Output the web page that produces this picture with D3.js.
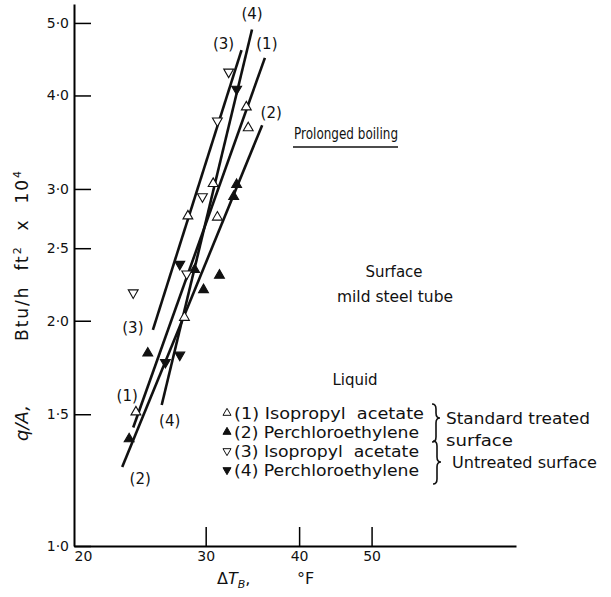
<!DOCTYPE html>
<html>
<head>
<meta charset="utf-8">
<script src="https://cdn.jsdelivr.net/npm/d3@7"></script>
<style>
body { margin: 0; background: #fff; }
svg text { font-family: "DejaVu Sans", sans-serif; fill: #111; }
</style>
</head>
<body>
<div id="chart"></div>
<script>
// tick values
var xTicks = [20, 30, 40, 50];
var yTicks = [1.0, 1.5, 2.0, 2.5, 3.0, 4.0, 5.0];

// (1) isopropyl acetate, standard treated
var s1x = [34.0, 34.2, 30.7, 28.4, 31.1, 28.1, 24.2];
var s1y = [3.86, 3.62, 3.05, 2.76, 2.75, 2.02, 1.51];
// (2) perchloroethylene, standard treated
var s2x = [33.0, 32.7, 29.0, 31.3, 29.8, 25.1, 23.7];
var s2y = [3.04, 2.93, 2.34, 2.30, 2.20, 1.81, 1.39];
// (3) isopropyl acetate, untreated
var s3x = [32.2, 31.1, 29.7, 28.3, 24.0];
var s3y = [4.30, 3.70, 2.93, 2.31, 2.18];
// (4) perchloroethylene, untreated
var s4x = [33.0, 27.7, 27.7, 26.5];
var s4y = [4.08, 2.38, 1.80, 1.76];

// fitted lines: [x bottom, x top], [y bottom, y top]
var l1x = [24.0, 36.0], l1y = [1.44, 4.49];
var l2x = [23.2, 35.7], l2y = [1.275, 3.65];
var l3x = [25.5, 33.5], l3y = [1.945, 4.60];
var l4x = [26.2, 34.6], l4y = [1.543, 4.90];

var legendNames = ["(1) Isopropyl  acetate", "(2) Perchloroethylene", "(3) Isopropyl  acetate", "(4) Perchloroethylene"];

var w = 611, h = 597;

var svg = d3.select("#chart").append("svg")
    .attr("width", w)
    .attr("height", h);

var x = d3.scaleLog().domain([20, 78]).range([74, 516]);
var y = d3.scaleLog().domain([1, 5.3]).range([546, 4]);

// y axis, ticks pointing inward
var yAxis = d3.axisLeft(y)
    .tickValues(yTicks)
    .tickSizeInner(-17)
    .tickSizeOuter(0)
    .tickPadding(5)
    .tickFormat(function(d) { return d.toFixed(1).replace(".", "·"); });

var gy = svg.append("g")
    .attr("transform", "translate(" + x(20) + ",0)")
    .call(yAxis);
gy.select(".domain").attr("stroke-width", 2);
gy.selectAll(".tick line").attr("stroke-width", 1.5);
gy.selectAll(".tick text")
    .style("font-size", "14px")
    .style("font-family", "DejaVu Sans");

// x axis, ticks pointing up
var xAxis = d3.axisBottom(x)
    .tickValues(xTicks)
    .tickSizeInner(-19)
    .tickSizeOuter(0)
    .tickPadding(5)
    .tickFormat(d3.format("d"));

var gx = svg.append("g")
    .attr("transform", "translate(0," + y(1) + ")")
    .call(xAxis);
gx.select(".domain").attr("stroke-width", 2);
gx.selectAll(".tick line").attr("stroke-width", 1.5);
gx.selectAll(".tick text")
    .style("font-size", "14px")
    .style("font-family", "DejaVu Sans");
gx.selectAll(".tick").filter(function(d) { return d == 20; }).select("text")
    .attr("dx", 9);
gx.selectAll(".tick").filter(function(d) { return d == 20; }).select("line").remove();

// fitted lines
var lines = [
    {xs: l1x, ys: l1y, top: [2, -14], bot: [-6, -32], name: "(1)"},
    {xs: l2x, ys: l2y, top: [9, -12], bot: [18, 12], name: "(2)"},
    {xs: l3x, ys: l3y, top: [-18, -6], bot: [-20, -2], name: "(3)"},
    {xs: l4x, ys: l4y, top: [0, -16], bot: [8, 16], name: "(4)"}
];

lines.forEach(function(l) {
    svg.append("line")
        .attr("x1", x(l.xs[0]))
        .attr("y1", y(l.ys[0]))
        .attr("x2", x(l.xs[1]))
        .attr("y2", y(l.ys[1]))
        .attr("stroke", "#111")
        .attr("stroke-width", 2.6);
    svg.append("text")
        .attr("x", x(l.xs[1]) + l.top[0])
        .attr("y", y(l.ys[1]) + l.top[1])
        .attr("text-anchor", "middle")
        .attr("dy", "0.35em")
        .style("font-size", "15px")
        .text(l.name);
    svg.append("text")
        .attr("x", x(l.xs[0]) + l.bot[0])
        .attr("y", y(l.ys[0]) + l.bot[1])
        .attr("text-anchor", "middle")
        .attr("dy", "0.35em")
        .style("font-size", "15px")
        .text(l.name);
});

// markers
var series = [
    {xs: s1x, ys: s1y, fill: "#fff", rot: 0},
    {xs: s2x, ys: s2y, fill: "#111", rot: 0},
    {xs: s3x, ys: s3y, fill: "#fff", rot: 180},
    {xs: s4x, ys: s4y, fill: "#111", rot: 180}
];
var tri = d3.symbol().type(d3.symbolTriangle).size(42);

series.forEach(function(s) {
    svg.selectAll(null)
        .data(d3.zip(s.xs, s.ys))
        .enter()
        .append("path")
        .attr("d", tri)
        .attr("transform", function(d) {
            return "translate(" + x(d[0]) + "," + y(d[1]) + ") rotate(" + s.rot + ")";
        })
        .attr("fill", s.fill)
        .attr("stroke", "#111")
        .attr("stroke-width", 1.1);
});

// annotations
svg.append("text")
    .attr("x", 294).attr("y", 139)
    .attr("textLength", 104)
    .attr("lengthAdjust", "spacingAndGlyphs")
    .style("font-size", "16px")
    .text("Prolonged boiling");
svg.append("line")
    .attr("x1", 293).attr("x2", 398)
    .attr("y1", 147).attr("y2", 147)
    .attr("stroke", "#111").attr("stroke-width", 1.5);

svg.append("text")
    .attr("x", 394).attr("y", 277)
    .attr("text-anchor", "middle")
    .style("font-size", "15px")
    .text("Surface");
svg.append("text")
    .attr("x", 337).attr("y", 302)
    .attr("textLength", 116)
    .attr("lengthAdjust", "spacingAndGlyphs")
    .style("font-size", "15px")
    .text("mild steel tube");
svg.append("text")
    .attr("x", 355).attr("y", 385)
    .attr("text-anchor", "middle")
    .style("font-size", "15px")
    .text("Liquid");

// legend
var legY = [413, 432, 451, 470];
var legTri = d3.symbol().type(d3.symbolTriangle).size(28);
series.forEach(function(s, i) {
    svg.append("path")
        .attr("d", legTri)
        .attr("transform", "translate(227," + legY[i] + ") rotate(" + s.rot + ")")
        .attr("fill", s.fill)
        .attr("stroke", "#111")
        .attr("stroke-width", 1);
    svg.append("text")
        .attr("x", 234)
        .attr("y", legY[i])
        .attr("dy", "0.35em")
        .attr("textLength", i == 0 ? 190 : 185)
        .attr("lengthAdjust", "spacingAndGlyphs")
        .style("font-size", "16px")
        .attr("xml:space", "preserve")
        .text(legendNames[i]);
});

function brace(bx, y1, y2, ym, bw) {
    var q = 5, mx = bx + bw / 2;
    return "M" + bx + "," + y1 +
        " Q" + mx + "," + y1 + " " + mx + "," + (y1 + q) +
        " L" + mx + "," + (ym - q) +
        " Q" + mx + "," + ym + " " + (bx + bw) + "," + ym +
        " Q" + mx + "," + ym + " " + mx + "," + (ym + q) +
        " L" + mx + "," + (y2 - q) +
        " Q" + mx + "," + y2 + " " + bx + "," + y2;
}

svg.append("path")
    .attr("d", brace(432, 404, 442, 418, 8))
    .attr("fill", "none").attr("stroke", "#111").attr("stroke-width", 1.6);
svg.append("path")
    .attr("d", brace(433, 441, 484, 462, 8))
    .attr("fill", "none").attr("stroke", "#111").attr("stroke-width", 1.6);

svg.append("text").attr("x", 446).attr("y", 424)
    .attr("textLength", 144).attr("lengthAdjust", "spacingAndGlyphs")
    .style("font-size", "16px").text("Standard treated");
svg.append("text").attr("x", 446).attr("y", 446)
    .attr("textLength", 67).attr("lengthAdjust", "spacingAndGlyphs")
    .style("font-size", "16px").text("surface");
svg.append("text").attr("x", 452).attr("y", 468)
    .attr("textLength", 145).attr("lengthAdjust", "spacingAndGlyphs")
    .style("font-size", "16px").text("Untreated surface");

// axis titles
svg.append("text")
    .attr("transform", "translate(28,441) rotate(-90)")
    .style("font-size", "18px")
    .style("font-style", "italic")
    .text("q/A,");
var yt = svg.append("text")
    .attr("transform", "translate(28,341) rotate(-90)")
    .attr("xml:space", "preserve")
    .style("font-size", "17px")
    .style("letter-spacing", "2px");
yt.append("tspan").text("Btu/h  ft");
yt.append("tspan").attr("dy", -7).style("font-size", "11px").text("2");
yt.append("tspan").attr("dy", 7).text("  x  10");
yt.append("tspan").attr("dy", -7).style("font-size", "11px").text("4");

var xt = svg.append("text")
    .attr("x", 217).attr("y", 584)
    .style("font-size", "16px");
xt.append("tspan").text("Δ");
xt.append("tspan").style("font-style", "italic").text("T");
xt.append("tspan").attr("dy", 4).style("font-size", "11px").style("font-style", "italic").text("B");
xt.append("tspan").attr("dy", -4).text(",");
svg.append("text")
    .attr("x", 297).attr("y", 584)
    .style("font-size", "16px")
    .text("°F");
</script>
</body>
</html>
